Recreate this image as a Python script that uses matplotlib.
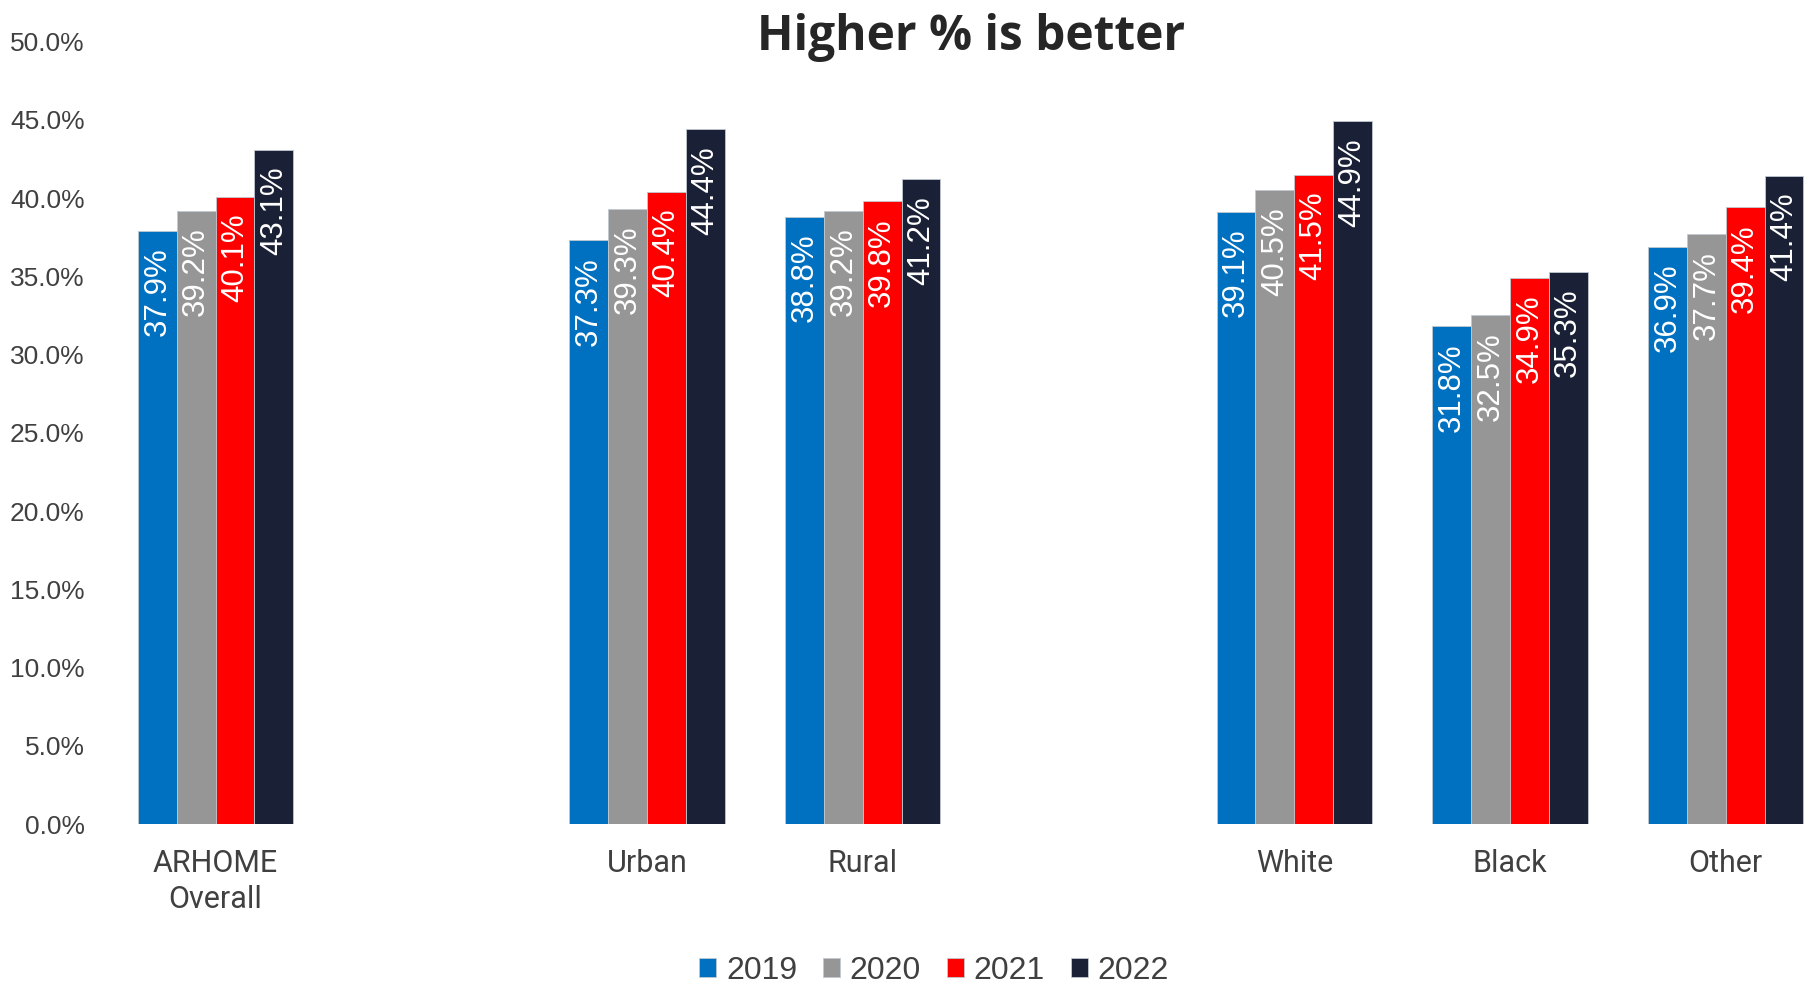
import numpy as np
import matplotlib.pyplot as plt

# Blank entries act as spacers between the groups
categories = ['ARHOME\nOverall', '', 'Urban', 'Rural', '', 'White', 'Black', 'Other']
years = ['2019', '2020', '2021', '2022']
v2019 = [37.9, None, 37.3, 38.8, None, 39.1, 31.8, 36.9]
v2020 = [39.2, None, 39.3, 39.2, None, 40.5, 32.5, 37.7]
v2021 = [40.1, None, 40.4, 39.8, None, 41.5, 34.9, 39.4]
v2022 = [43.1, None, 44.4, 41.2, None, 44.9, 35.3, 41.4]

colors = ['#0070C0', '#969696', '#FF0000', '#1A2035']
text_color = '#404040'
plt.rcParams['font.family'] = ['Liberation Sans', 'DejaVu Sans']

fig = plt.figure(figsize=(18.12, 9.83), dpi=100)
ax = fig.add_axes([107.7 / 1812, 1 - 824 / 983, 1 - 107.7 / 1812, (824 - 41.6) / 983])

x = np.arange(len(categories))
width = 0.18
series = [v2019, v2020, v2021, v2022]

for k, (vals, clr, yr) in enumerate(zip(series, colors, years)):
    vals = np.array([np.nan if v is None else v for v in vals]) / 100.0
    pos = x + (k - 1.5) * width
    ax.bar(pos, vals, width, color=clr, edgecolor='#C0C8D0', linewidth=0.6, label=yr)
    for xp, v in zip(pos, vals):
        if np.isnan(v):
            continue
        ax.annotate('%.1f%%' % (v * 100), xy=(xp, v), xytext=(0, -12),
                    textcoords='offset points', rotation=90, ha='center', va='top',
                    color='white', fontsize=22.5)

ax.set_xlim(-0.5, 7.4)
ax.set_ylim(0, 0.5)
ticks = np.arange(0, 0.501, 0.05)
ax.set_yticks(ticks)
ax.set_yticklabels(['%.1f%%' % (t * 100) for t in ticks], fontsize=19, color=text_color)
ax.set_xticks(x)
ax.set_xticklabels(categories, fontsize=22, color=text_color,
                   family='Roboto', linespacing=1.3)
ax.tick_params(axis='both', length=0)
ax.tick_params(axis='x', pad=18)
ax.tick_params(axis='y', pad=16.5)
for s in ax.spines.values():
    s.set_visible(False)

fig.text(971 / 1812, 1 - 38 / 983, 'Higher % is better', ha='center', va='center',
         fontsize=34.5, fontweight='bold', family='Open Sans', color='#262626')

lg = fig.legend(loc='center', bbox_to_anchor=(934 / 1812, 1 - 971 / 983), ncol=4,
                frameon=False, fontsize=23, handlelength=0.55, handleheight=0.55,
                handletextpad=0.3, columnspacing=0.8, labelcolor=text_color)

fig.savefig('out.png', dpi=100)
